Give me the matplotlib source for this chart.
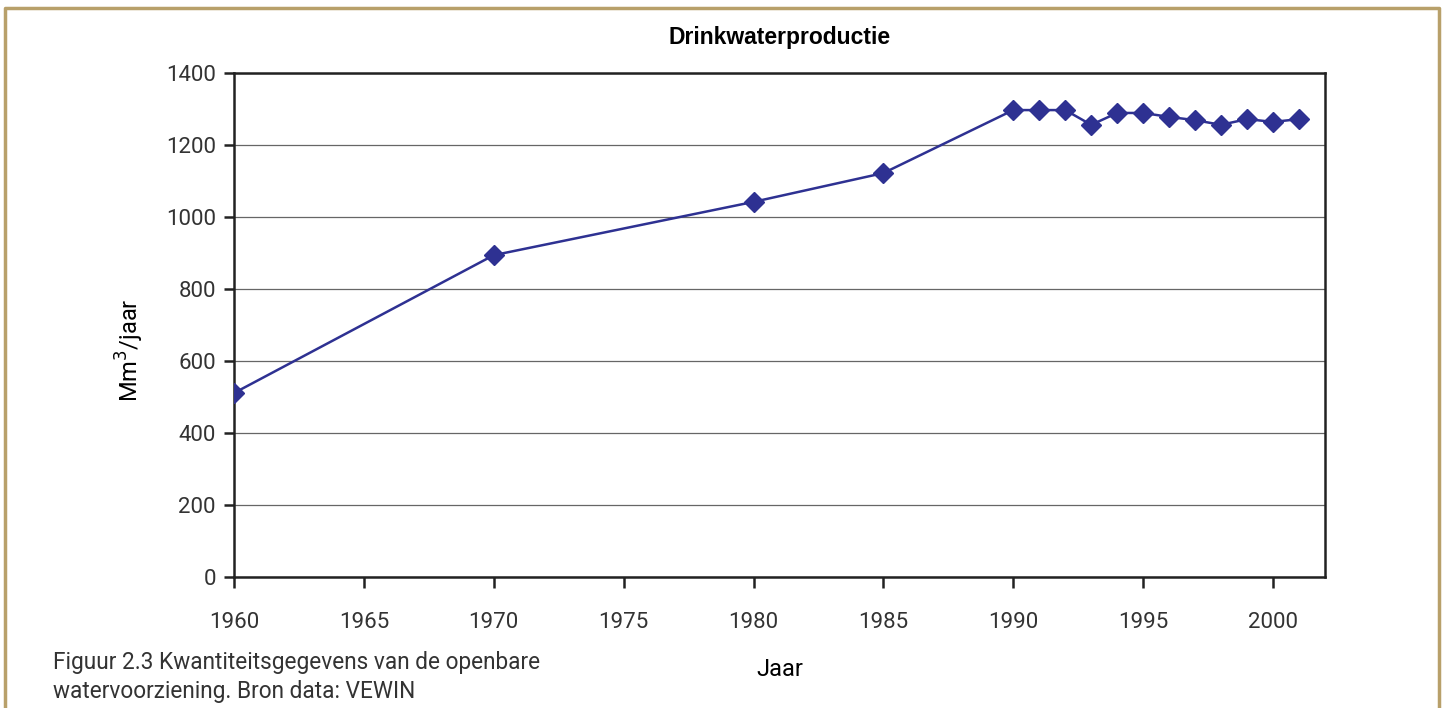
import matplotlib.pyplot as plt
from matplotlib.lines import Line2D

years = [1960, 1970, 1980, 1985, 1990, 1991, 1992, 1993, 1994, 1995,
         1996, 1997, 1998, 1999, 2000, 2001]
production = [511, 894, 1042, 1122, 1297, 1297, 1297, 1256, 1289, 1289,
              1278, 1269, 1256, 1272, 1264, 1272]
xticks = [1960, 1965, 1970, 1975, 1980, 1985, 1990, 1995, 2000]
yticks = [0, 200, 400, 600, 800, 1000, 1200, 1400]

navy = '#2e3192'
gold = '#b8a06a'
tickfont = 'Roboto'

fig = plt.figure(figsize=(14.47, 7.08), dpi=100)
ax = fig.add_axes([0.1617, 0.185, 0.7540, 0.7119])

ax.plot(years, production, color=navy, lw=1.8, marker='D', ms=10.5,
        markeredgecolor=navy, zorder=3)

ax.set_xlim(1960, 2002)
ax.set_ylim(0, 1400)
ax.set_xticks(xticks)
ax.set_yticks(yticks)
ax.yaxis.grid(True, color='#666666', lw=0.9)
ax.set_axisbelow(True)
for s in ax.spines.values():
    s.set_color('#222222')
    s.set_linewidth(1.8)
ax.tick_params(axis='both', direction='out', color='#222222', width=1.8,
               labelsize=16, labelcolor='#333333')
ax.tick_params(axis='x', length=8, pad=17)
ax.tick_params(axis='y', length=7, pad=6)
for lab in ax.get_xticklabels() + ax.get_yticklabels():
    lab.set_family(tickfont)

ax.set_title('Drinkwaterproductie', fontsize=16.5, fontweight='bold',
             family='Liberation Sans', pad=21)
ax.set_ylabel('Mm$^3$/jaar', fontsize=17, family=tickfont, labelpad=14)
ax.yaxis.label.set_y(0.45)
ax.set_xlabel('Jaar', fontsize=17, family=tickfont, labelpad=18)

fig.text(0.0366, 0.044, 'Figuur 2.3 Kwantiteitsgegevens van de openbare\nwatervoorziening. Bron data: VEWIN',
         fontsize=16.3, family=tickfont, color='#333333', linespacing=1.3,
         va='center')

# decorative frame
fig.add_artist(Line2D([0.0035, 0.0035, 0.9945, 0.9945], [0, 0.989, 0.989, 0],
                      transform=fig.transFigure, color=gold, lw=2.5))

fig.savefig('out.png', dpi=100)
